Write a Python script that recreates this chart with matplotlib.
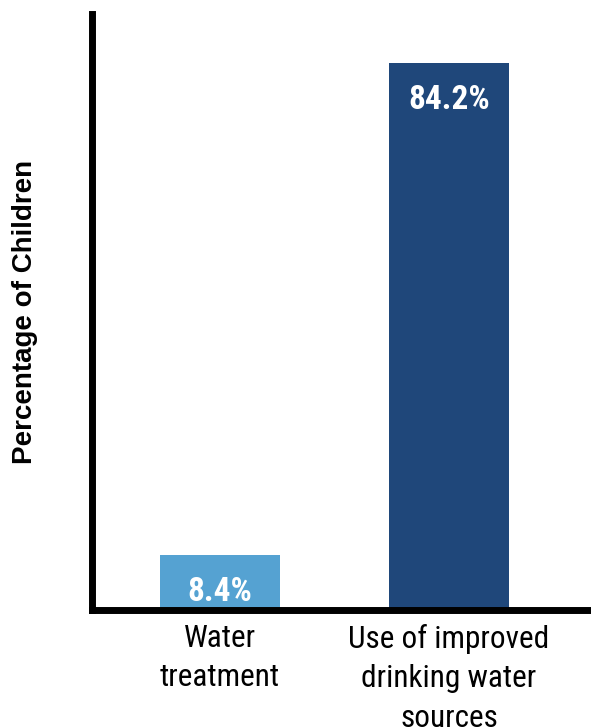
import matplotlib.pyplot as plt
from matplotlib import font_manager

# datos de las barras
categorias = ['Water\ntreatment', 'Use of improved\ndrinking water\nsources']
porcentajes = [8.4, 84.2]
colores = ['#55a2d2', '#1f477a']

# fuente estrecha para las etiquetas, si existe
nombres = {f.name for f in font_manager.fontManager.ttflist}
estrecha = 'Roboto Condensed' if 'Roboto Condensed' in nombres else 'DejaVu Sans'

fig = plt.figure(figsize=(5.91, 7.27), dpi=100)
ax = fig.add_axes([0.1565, 0.161, 0.8435, 0.82])

x = range(len(categorias))
barras = ax.bar(x, porcentajes, width=0.524, color=colores, zorder=1)

# etiquetas de valor dentro de cada barra, arriba
for b, v in zip(barras, porcentajes):
    ax.annotate(f'{v}%', (b.get_x() + b.get_width() / 2, v),
                xytext=(0, -15), textcoords='offset points',
                ha='center', va='top', color='white',
                fontsize=24, fontweight='bold', family=estrecha)

ax.set_xlim(-0.557, 1.62)
ax.set_ylim(0, 91.8)

ax.set_xticks(list(x))
ax.set_xticklabels(categorias, fontsize=22.5, family=estrecha, linespacing=1.45)
ax.tick_params(axis='x', length=0, pad=10)
ax.set_yticks([])

ax.set_ylabel('Percentage of Children', fontsize=20, fontweight='bold',
              family='Liberation Sans')
ax.yaxis.set_label_coords(-0.11, 0.5)

for lado in ['top', 'right']:
    ax.spines[lado].set_visible(False)
for lado in ['left', 'bottom']:
    ax.spines[lado].set_linewidth(5)
    ax.spines[lado].set_color('black')
    ax.spines[lado].set_zorder(3)

fig.savefig('out.png', dpi=100)
